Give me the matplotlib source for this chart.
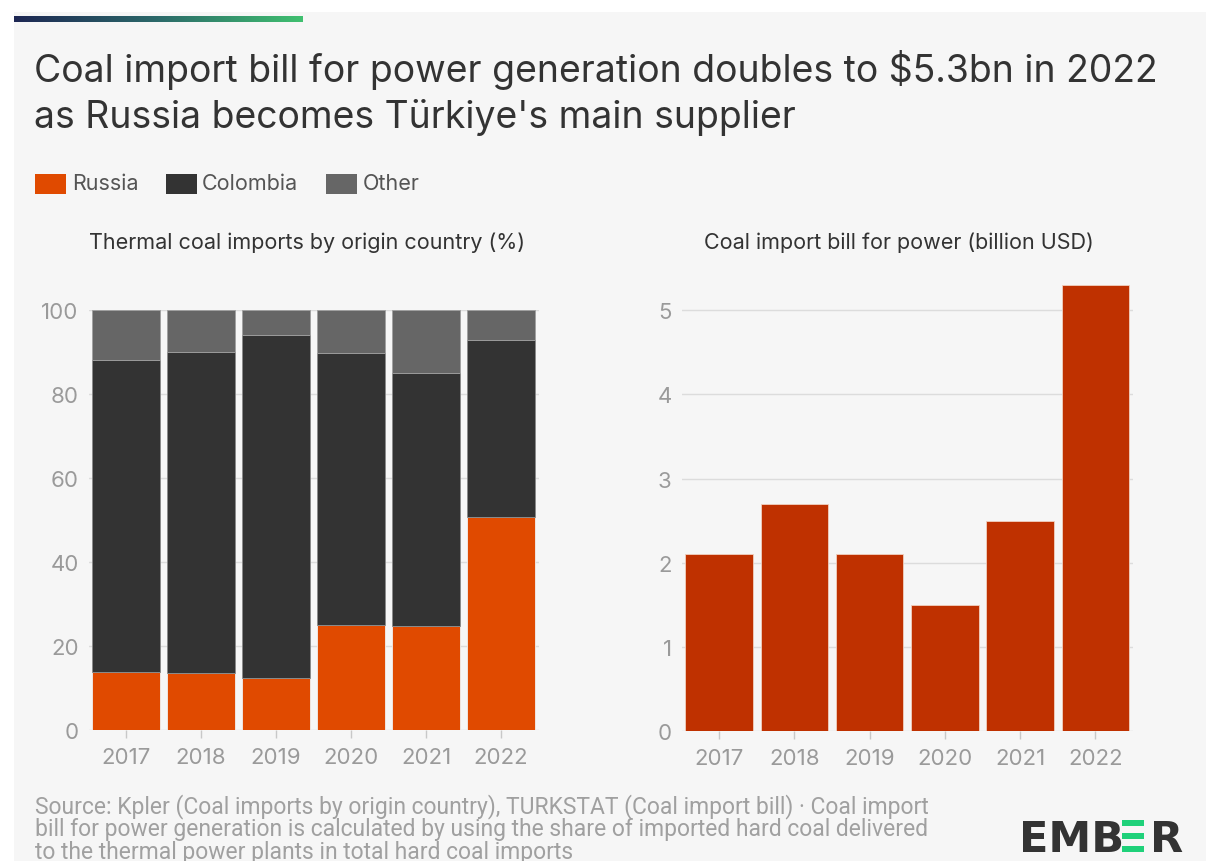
import numpy as np
import matplotlib
matplotlib.use("Agg")
import matplotlib.pyplot as plt
from matplotlib.patches import Rectangle

# data
years = ["2017", "2018", "2019", "2020", "2021", "2022"]
russia = [13.8, 13.5, 12.4, 25.1, 24.7, 50.8]
colombia = [74.3, 76.5, 81.6, 64.6, 60.3, 42.1]
other = [11.9, 10.0, 6.0, 10.3, 15.0, 7.1]
bill = [2.1, 2.7, 2.1, 1.5, 2.5, 5.3]
left_ticks = [0, 20, 40, 60, 80, 100]
right_ticks = [0, 1, 2, 3, 4, 5]

c_russia = "#e04a00"
c_colombia = "#333333"
c_other = "#666666"
c_bill = "#bf3100"
bg = "#f6f6f6"
tick_col = "#9a9a9a"
grid_col = "#dcdcdc"

plt.rcParams["font.family"] = ["Inter", "DejaVu Sans"]

W, H = 1206, 862
fig = plt.figure(figsize=(W / 100, H / 100), dpi=100)
fig.patch.set_facecolor("white")


def fx(x):
    return x / W


def fy(y):
    return 1 - y / H


# grey panel (behind the axes)
fig.patches.append(Rectangle((fx(14), 0), 1 - fx(14), fy(13), transform=fig.transFigure,
                             facecolor=bg, edgecolor="none", zorder=-10))

# gradient strip at top
gax = fig.add_axes([fx(14), fy(23), fx(303) - fx(14), fy(17) - fy(23)])
grad = np.linspace(0, 1, 256).reshape(1, -1)
cmap = matplotlib.colors.LinearSegmentedColormap.from_list("g", ["#1d2753", "#2c6a6a", "#40c070"])
gax.imshow(grad, aspect="auto", cmap=cmap)
gax.axis("off")

# title
fig.text(fx(34), fy(93), "Coal import bill for power generation doubles to $5.3bn in 2022\n"
         "as Russia becomes Türkiye's main supplier",
         fontsize=26.9, color="#333333", va="center", ha="left", linespacing=1.3)

# legend
for x0, xt, lab, col in [(35, 72, "Russia", c_russia), (166, 202, "Colombia", c_colombia),
                         (326, 363, "Other", c_other)]:
    fig.patches.append(Rectangle((fx(x0), fy(195)), fx(31), 20 / H, transform=fig.transFigure,
                                 facecolor=col, edgecolor="none"))
    fig.text(fx(xt), fy(184), lab, fontsize=15.5, color="#555555", va="center", ha="left")

# subtitles
fig.text(fx(89), fy(243), "Thermal coal imports by origin country (%)", fontsize=15.5,
         color="#333333", va="center", ha="left")
fig.text(fx(704), fy(243), "Coal import bill for power (billion USD)", fontsize=15.5,
         color="#333333", va="center", ha="left")

x = np.arange(len(years))


def style(ax, ticks):
    ax.set_facecolor(bg)
    for s in ax.spines.values():
        s.set_visible(False)
    ax.set_xlim(-0.5, len(years) - 0.5)
    ax.set_xticks(x)
    ax.set_xticklabels(years)
    ax.set_yticks(ticks)
    ax.tick_params(axis="x", colors=tick_col, labelsize=16, length=6, width=1, pad=6,
                   color="#c8c8c8")
    ax.tick_params(axis="y", colors=tick_col, labelsize=16, length=0, pad=7)
    ax.grid(axis="y", color=grid_col, linewidth=1)
    ax.set_axisbelow(True)


# left: stacked shares
ax1 = fig.add_axes([fx(88.5), fy(731), fx(450), 420 / H])
ax1.bar(x, russia, 0.9, color=c_russia, edgecolor="#f0f0f0", linewidth=0.6)
ax1.bar(x, colombia, 0.9, bottom=russia, color=c_colombia, edgecolor="#8a8a8a", linewidth=0.6)
bot2 = np.array(russia) + np.array(colombia)
ax1.bar(x, other, 0.9, bottom=bot2, color=c_other, edgecolor="#a0a0a0", linewidth=0.6)
ax1.set_ylim(0, 100)
style(ax1, left_ticks)

# right: import bill
ax2 = fig.add_axes([fx(681.5), fy(732.3), fx(451.5), 450.8 / H])
ax2.bar(x, bill, 0.9, color=c_bill, edgecolor="#f0d0c0", linewidth=0.6)
ax2.set_ylim(0, 5.35)
style(ax2, right_ticks)

# source note
fig.text(fx(35), fy(829), "Source: Kpler (Coal imports by origin country), TURKSTAT (Coal import bill) · Coal import\n"
         "bill for power generation is calculated by using the share of imported hard coal delivered\n"
         "to the thermal power plants in total hard coal imports",
         fontsize=16.5, color="#a0a0a0", va="center", ha="left", linespacing=0.95,
         family=["Roboto", "DejaVu Sans"])

# EMBER logo
fig.text(fx(1019), fy(852), "EMB", fontsize=31, fontweight="bold", color="#333333",
         ha="left", va="baseline", family="DejaVu Sans")
fig.text(fx(1150), fy(852), "R", fontsize=31, fontweight="bold", color="#333333",
         ha="left", va="baseline", family="DejaVu Sans")
for yb in [821, 834, 847]:
    fig.patches.append(Rectangle((fx(1122), fy(yb + 5.5)), fx(22), 5.5 / H,
                                 transform=fig.transFigure, facecolor="#1fd17a",
                                 edgecolor="none"))

fig.savefig("out.png", dpi=100, facecolor=fig.get_facecolor())
